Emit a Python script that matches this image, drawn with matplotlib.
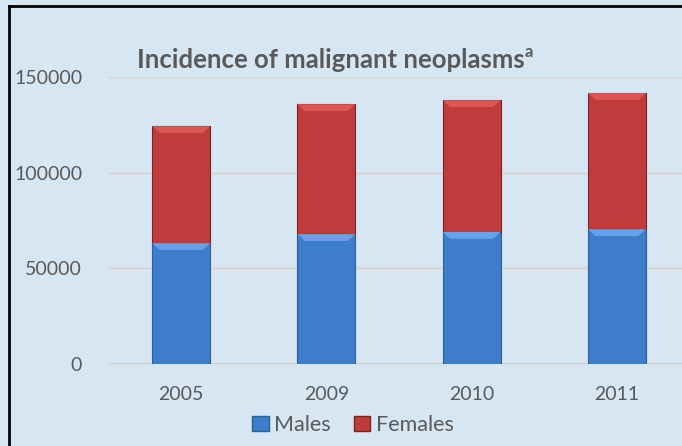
import matplotlib.pyplot as plt
from matplotlib.lines import Line2D
from matplotlib.patches import Patch, Polygon

years = ["2005", "2009", "2010", "2011"]
males = [63200, 67900, 69000, 70500]
females = [61100, 67900, 68900, 71100]
yticks = [0, 50000, 100000, 150000]

BG = "#d7e6f3"
TXT = "#595959"
MALE = ("#3d7dcc", "#62a3ec", "#2b5f9e")     # body, top bevel, edge
FEMALE = ("#c03b3b", "#dc5656", "#7c2222")

plt.rcParams["font.family"] = ["Lato", "DejaVu Sans"]

fig = plt.figure(figsize=(6.82, 4.46), dpi=100, facecolor=BG)
ax = fig.add_axes([108.5 / 682, 82 / 446, 581 / 682, 287 / 446])
ax.set_facecolor(BG)

x = range(len(years))
width = 0.4
bm = ax.bar(x, males, width, color=MALE[0], edgecolor=MALE[2], linewidth=0.8, zorder=3)
bf = ax.bar(x, females, width, bottom=males, color=FEMALE[0], edgecolor=FEMALE[2],
            linewidth=0.8, zorder=3)


def bevel(patches, light):
    # lighter trapezoid along the top edge of each segment
    for p in patches:
        x0, y0 = p.get_x(), p.get_y()
        w, h = p.get_width(), p.get_height()
        dx, dy = w * 0.13, 3600
        top = y0 + h
        ax.add_patch(Polygon([(x0, top), (x0 + w, top), (x0 + w - dx, top - dy),
                              (x0 + dx, top - dy)], closed=True, color=light,
                             lw=0, zorder=4))


bevel(bm, MALE[1])
bevel(bf, FEMALE[1])

ax.set_xlim(-0.5, 3.5)
ax.set_ylim(0, 150000)
ax.set_yticks(yticks)
ax.set_yticklabels([str(v) for v in yticks])
ax.set_xticks(list(x))
ax.set_xticklabels(years)
ax.tick_params(axis="both", length=0, colors=TXT, labelsize=14)
ax.tick_params(axis="y", pad=19)
ax.tick_params(axis="x", pad=16)
for s in ax.spines.values():
    s.set_visible(False)
ax.grid(axis="y", color="#dccfc4", linewidth=1, zorder=1)
ax.axhline(0, color="#cfc6bd", linewidth=2, zorder=2)

title = fig.text(137 / 682, 1 - 60 / 446, "Incidence of malignant neoplasms",
                 fontsize=18.5, fontweight="bold", color=TXT, ha="left", va="center")
ax.annotate("a", xy=(1.0, 0.5), xycoords=title, xytext=(0, 0),
            textcoords="offset points", fontsize=12, fontweight="bold", color=TXT,
            ha="left", va="bottom")

handles = [Patch(facecolor=MALE[0], edgecolor=MALE[2], label="Males"),
           Patch(facecolor=FEMALE[0], edgecolor=FEMALE[2], label="Females")]
fig.legend(handles=handles, loc="center", bbox_to_anchor=(353 / 682, 1 - 425 / 446),
           ncol=2, frameon=False, fontsize=15.5, labelcolor=TXT, handlelength=0.75,
           handleheight=0.75, handletextpad=0.25, columnspacing=1.1)

fig.add_artist(Line2D([9 / 682, 9 / 682], [0, 1 - 6 / 446], color="black", lw=2))
fig.add_artist(Line2D([9 / 682, 1], [1 - 6 / 446, 1 - 6 / 446], color="black", lw=2))

fig.savefig("out.png", dpi=100, facecolor=BG)
